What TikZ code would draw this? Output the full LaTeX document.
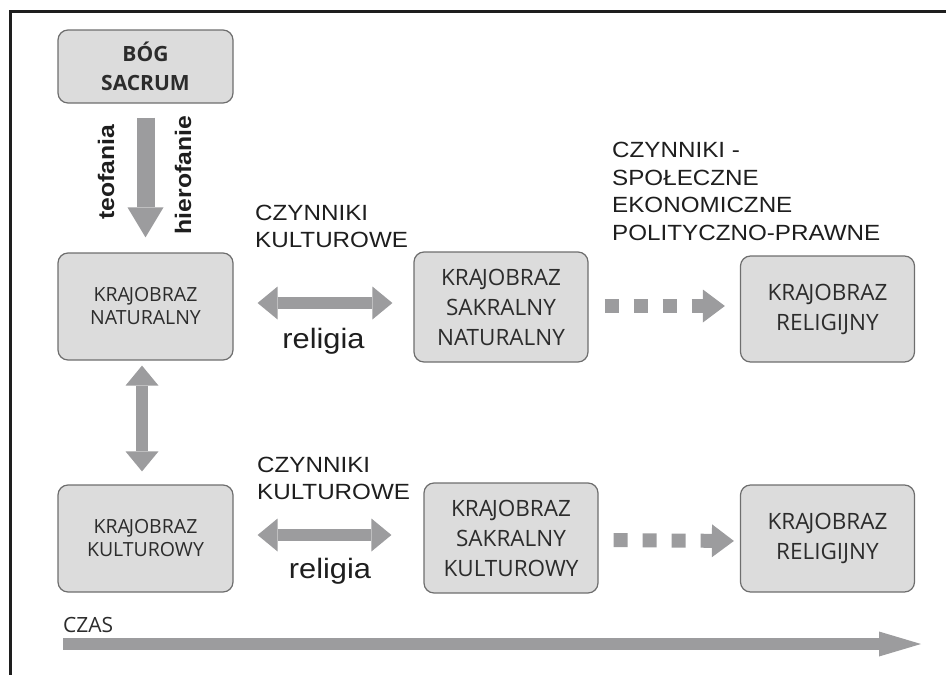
\documentclass[tikz,border=0pt]{standalone}
\usepackage{fontspec}
\setmainfont{Open Sans}
\newfontfamily\arialfont[FakeStretch=1.1]{Liberation Sans}
\usetikzlibrary{positioning,arrows.meta}
\definecolor{boxgray}{HTML}{DCDCDC}
\definecolor{edgegray}{HTML}{6E6E6E}
\definecolor{arrowgray}{HTML}{9C9C9E}
\definecolor{textgray}{HTML}{2C2C2C}
\definecolor{framegray}{HTML}{1E1E1E}
\newcommand{\landword}{KRA\kern-0.06em JOBRAZ}
\tikzset{
  landbox/.style={draw=edgegray, line width=1.2pt, rounded corners=10pt, fill=boxgray, text=textgray, align=center, inner sep=0pt, minimum width=175pt, minimum height=107pt, font=\fontsize{19.5}{23}\selectfont},
  godbox/.style={landbox, minimum height=73pt, font=\fontsize{21}{29}\selectfont\bfseries},
  sacredbox/.style={landbox, minimum width=174pt, minimum height=110pt, font=\fontsize{22.5}{30}\selectfont},
  factorlabel/.style={anchor=north west, inner sep=0pt, align=left, text=framegray, font=\arialfont\fontsize{22}{26.5}\selectfont},
  religlabel/.style={anchor=base, inner sep=0pt, text=framegray, font=\arialfont\fontsize{28}{30}\selectfont},
  sidelabel/.style={rotate=90, inner sep=0pt, text=framegray, font=\arialfont\fontsize{22.5}{26}\selectfont\bfseries},
  downarrow/.style={arrowgray, line width=18pt, -{Triangle[width=36pt, length=30pt, line width=0pt]}},
  bothways/.style={arrowgray, line width=12pt, {Triangle[width=33pt, length=20pt, line width=0pt]}-{Triangle[width=33pt, length=20pt, line width=0pt]}},
  dottedarrow/.style={arrowgray, line width=14pt, dash pattern=on 14pt off 15pt, -{Triangle[width=33pt, length=22pt, line width=0pt]}},
  timearrow/.style={arrowgray, line width=12pt, -{Triangle[width=25pt, length=42pt, line width=0pt]}}
}
\begin{document}
\begin{tikzpicture}[x=1pt, y=-1pt]
  \useasboundingbox (0,0) rectangle (946,675);
  \draw[framegray, line width=3pt] (946,11.5) -- (10,11.5) -- (10,675);
  \node[godbox] (sacrum) at (145.5,66.5) {BÓG\\SACRUM};
  \node[landbox] (natural) at (145.5,306.5) {\landword\\NATURALNY};
  \node[landbox] (cultural) at (145.5,538.5) {\landword\\KULTUROWY};
  \node[sacredbox] (sacnat) at (501,307) {\landword\\SAKRALNY\\NATURALNY};
  \node[sacredbox, minimum height=106pt] (relnat) at (827.5,309) {\landword\\RELIGIJNY};
  \node[sacredbox] (saccult) at (511,538) {\landword\\SAKRALNY\\KULTUROWY};
  \node[sacredbox, minimum height=107pt] (relcult) at (827.5,538.5) {\landword\\RELIGIJNY};
  \node[sidelabel] (teofania) at (106,172.5) {teofania};
  \node[sidelabel] (hierofanie) at (183,175) {hierofanie};
  \node[factorlabel] (culttop) at (255,205) {CZYNNIKI\\KULTUROWE};
  \node[religlabel] (religtop) at (323.5,348) {religia};
  \node[factorlabel] (cultbottom) at (257,457) {CZYNNIKI\\KULTUROWE};
  \node[religlabel] (religbottom) at (330,578) {religia};
  \node[factorlabel, font=\arialfont\fontsize{22}{27.5}\selectfont] (social) at (612,142) {CZYNNIKI -\\SPOŁECZNE\\EKONOMICZNE\\POLITYCZNO-PRAWNE};
  \node[anchor=north west, inner sep=0pt, text=textgray, font=\fontsize{21}{24}\selectfont] (time) at (63,617) {CZAS};
  \coordinate (timestart) at (63,644);
  \coordinate (timeend) at (921,644);
  \draw[downarrow, shorten <=14pt, shorten >=15pt] (sacrum) -- (natural);
  \draw[bothways, shorten <=5pt, shorten >=13pt] ([xshift=-3.5pt]natural.south) -- ([xshift=-3.5pt]cultural.north);
  \draw[bothways, shorten <=24pt, shorten >=21pt] ([yshift=3.5pt]natural.east) -- ([yshift=4pt]sacnat.west);
  \draw[dottedarrow, shorten <=16pt, shorten >=15pt] ([yshift=1pt]sacnat.east) -- ([yshift=3pt]relnat.west);
  \draw[bothways, shorten <=24pt, shorten >=32pt] ([yshift=3.5pt]cultural.east) -- ([yshift=3pt]saccult.west);
  \draw[dottedarrow, shorten <=15pt, shorten >=6pt] ([yshift=-2pt]saccult.east) -- ([yshift=-2.5pt]relcult.west);
  \draw[timearrow] (timestart) -- (timeend);
\end{tikzpicture}
\end{document}
